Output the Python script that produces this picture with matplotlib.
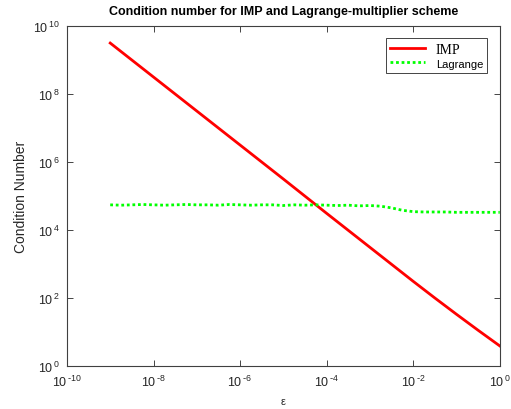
import numpy as np
import matplotlib
matplotlib.use("Agg")
import matplotlib.pyplot as plt
from matplotlib.ticker import FuncFormatter

plt.rcParams['font.family'] = ['Liberation Sans', 'DejaVu Sans']
plt.rcParams['mathtext.default'] = 'regular'

# epsilon sample points (log10) and condition numbers (log10)
imp_log_eps = [-9, -8, -7, -6, -5, -4, -3, -2, -1.5, -1, -0.5, 0]
imp_log_cond = [9.5, 8.5, 7.5, 6.5, 5.5, 4.49, 3.49, 2.49, 2.0, 1.52, 1.05, 0.59]

lag_log_eps = [-9, -8.75, -8.5, -8.25, -8, -7.75, -7.5, -7.25, -7, -6.75, -6.5,
               -6.25, -6, -5.75, -5.5, -5.25, -5, -4.75, -4.5, -4.25, -4,
               -3.75, -3.5, -3.25, -3, -2.75, -2.5, -2.25, -2, -1.75, -1.5,
               -1.25, -1, -0.75, -0.5, -0.25, 0]
lag_log_cond = [4.74, 4.73, 4.74, 4.75, 4.74, 4.73, 4.74, 4.75, 4.74, 4.74, 4.73,
                4.75, 4.74, 4.73, 4.74, 4.74, 4.72, 4.74, 4.73, 4.74, 4.73,
                4.72, 4.73, 4.71, 4.72, 4.70, 4.65, 4.58, 4.54, 4.53, 4.53,
                4.53, 4.52, 4.52, 4.52, 4.52, 4.52]

imp_eps = 10.0 ** np.array(imp_log_eps)
imp_cond = 10.0 ** np.array(imp_log_cond)
lag_eps = 10.0 ** np.array(lag_log_eps)
lag_cond = 10.0 ** np.array(lag_log_cond)


def pow10(v, pos):
    e = int(round(np.log10(v)))
    if e < 0:
        return r'$10^{\,\text{-}%d}$' % (-e)
    return r'$10^{\,%d}$' % e


fig = plt.figure(figsize=(5.11, 4.10), dpi=100)
ax = fig.add_axes([0.131, 0.105, 0.847, 0.829])

ax.loglog(imp_eps, imp_cond, color='#ff0000', lw=2, label='IMP')
ax.loglog(lag_eps, lag_cond, color='#00ff00', lw=2, ls=(0, (1, 1)), label='Lagrange')

ax.set_xlim(1e-10, 1)
ax.set_ylim(1, 1e10)
ax.set_xticks([1e-10, 1e-8, 1e-6, 1e-4, 1e-2, 1])
ax.set_yticks([1, 1e2, 1e4, 1e6, 1e8, 1e10])
ax.minorticks_off()
ax.xaxis.set_major_formatter(FuncFormatter(pow10))
ax.yaxis.set_major_formatter(FuncFormatter(pow10))
ax.tick_params(direction='in', top=True, right=True, length=4, width=0.6,
               labelsize=9, colors='#262626')
ax.tick_params(axis='x', pad=6)
ax.tick_params(axis='y', pad=5)
for s in ax.spines.values():
    s.set_color('#404040')
    s.set_linewidth(0.8)

ax.set_title('Condition number for IMP and Lagrange-multiplier scheme',
             fontsize=9, fontweight='bold', pad=9)
ax.set_ylabel('Condition Number', fontsize=10, color='#262626', labelpad=4)
ax.set_xlabel(r'$\epsilon$', fontsize=8, labelpad=5, color='#262626')

leg = ax.legend(loc='upper right', bbox_to_anchor=(0.978, 0.972), fancybox=False,
                edgecolor='#262626', framealpha=1, borderpad=0.3,
                handlelength=2.5, labelspacing=0.1, borderaxespad=0.2)
leg.get_frame().set_linewidth(0.6)
texts = leg.get_texts()
texts[0].set_family('Liberation Serif')
texts[0].set_fontsize(10)
texts[1].set_fontsize(8)

fig.savefig('out.png', dpi=100)
